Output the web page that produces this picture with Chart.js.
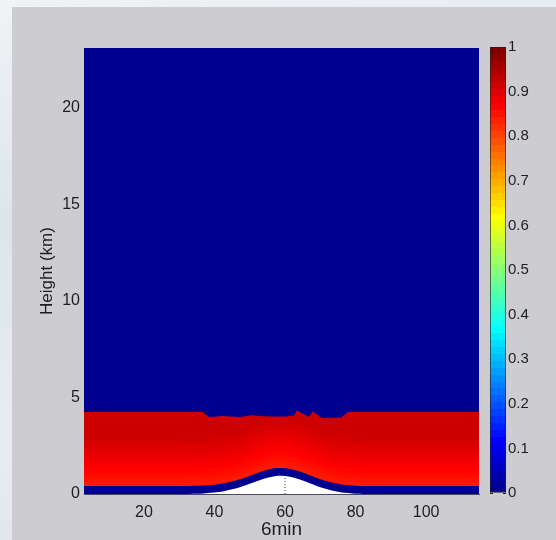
<!DOCTYPE html>
<html>
<head>
<meta charset="utf-8">
<script src="https://cdn.jsdelivr.net/npm/chart.js@4.4.1/dist/chart.umd.min.js"></script>
<style>
  html, body { margin: 0; padding: 0; }
  body {
    width: 556px; height: 540px; overflow: hidden; position: relative;
    background: linear-gradient(170deg, #f0f3f6 0%, #dde5eb 35%, #e8edf1 70%, #d9e1e8 100%);
  }
  #panel { position: absolute; left: 12px; top: 7px; right: 0; bottom: 0; background: #cdccd0; }
  #main { position: absolute; left: 0; top: 0; }
  #cbar { position: absolute; left: 460px; top: 0; }
</style>
</head>
<body>
<div id="panel"></div>
<canvas id="main" width="556" height="540"></canvas>
<canvas id="cbar" width="96" height="540"></canvas>
<script>
(function () {
    // ── Axes ───────────────────────────────────────────────
    const xMin = 3, xMax = 115;
    const yMax = 23.1;
    const xTicks = [20, 40, 60, 80, 100];
    const yTicks = [0, 5, 10, 15, 20];
    const cbTicks = [0, 0.1, 0.2, 0.3, 0.4, 0.5, 0.6, 0.7, 0.8, 0.9, 1];

    // ── Ground (white, no data), km ────────────────────────
    const terrainX = [3, 31, 33, 35, 37, 39, 41, 43, 45, 47, 49, 51, 53, 55, 57,
                      59, 61, 63, 65, 67, 69, 71, 73, 75, 77, 79, 81, 83, 115];
    const terrainH = [0, 0, 0.005, 0.015, 0.03, 0.06, 0.10, 0.16, 0.24, 0.34, 0.46, 0.60, 0.73, 0.84, 0.92,
                      0.94, 0.90, 0.82, 0.70, 0.56, 0.42, 0.30, 0.20, 0.12, 0.06, 0.03, 0.01, 0, 0];

    // ── Zero layer just above the ground, km ──────────────
    const clearDepth = 0.41;

    // ── Red layer: band tops above ground (km) and values ─
    const layerTops   = [0.6, 0.8, 1.0, 1.2, 1.4, 1.6, 1.8, 2.0, 2.2, 2.4, 2.6, 2.8, 3.0];
    const layerValues = [0.846, 0.853, 0.860, 0.867, 0.874, 0.880, 0.886, 0.892, 0.898, 0.904, 0.910, 0.915, 0.919];
    const upperValue = 0.922;

    // ── Top of the red layer, km ──────────────────────────
    const cloudX   = [3, 36.5, 38.5, 42.4, 47.2, 50.5, 53.7, 56.5, 60.4, 62.6, 63.3, 66.8, 67.9, 70.3, 76.0, 77.8, 115];
    const cloudTop = [4.25, 4.25, 3.99, 4.04, 3.99, 4.08, 4.03, 4.01, 4.01, 4.07, 4.33, 3.99, 4.28, 3.94, 3.96, 4.25, 4.25];

    // ── Dotted mark on the hill ───────────────────────────
    const markX = 60, markTop = 0.92;

    // ── Jet colour map (64 levels) ────────────────────────
    function ramp(k) {
        if (k <= 0 || k >= 48) return 0;
        if (k < 16) return k / 16;
        if (k <= 32) return 1;
        return (48 - k) / 16;
    }
    function jet(v) {
        const i = v * 63;
        const c = [ramp(i - 23), ramp(i - 7), ramp(i + 9)].map(a => Math.round(a * 255));
        return `rgb(${c[0]},${c[1]},${c[2]})`;
    }

    Chart.defaults.font.family = "'Liberation Sans', Arial, sans-serif";
    Chart.defaults.color = '#1e1e1e';

    const aboveGround = h => terrainX.map((x, i) => ({ x, y: terrainH[i] + h }));
    const area = (label, data, color, smooth) => ({
        label, data,
        backgroundColor: color,
        borderColor: 'rgba(0,0,0,0)',
        borderWidth: 0,
        pointRadius: 0,
        fill: 'origin',
        tension: 0,
        cubicInterpolationMode: smooth ? 'monotone' : 'default'
    });

    // first dataset is drawn on top
    const datasets = [
        {
            label: 'mark',
            data: [{ x: markX, y: 0 }, { x: markX, y: markTop }],
            borderColor: '#444',
            borderWidth: 1,
            borderDash: [1, 2],
            pointRadius: 0,
            fill: false
        },
        area('ground', aboveGround(0), '#ffffff', true),
        area('clear', aboveGround(clearDepth), jet(0), true),
        ...layerTops.map((h, k) => area('layer ' + h, aboveGround(h), jet(layerValues[k]), true)),
        area('cloud top', cloudX.map((x, i) => ({ x, y: cloudTop[i] })), jet(upperValue), false),
        area('above', [{ x: xMin, y: yMax }, { x: xMax, y: yMax }], jet(0), false)
    ];

    const fixTicks = list => s => { s.ticks = list.map(v => ({ value: v })); };

    new Chart(document.getElementById('main'), {
        type: 'line',
        data: { datasets },
        options: {
            responsive: false,
            animation: false,
            devicePixelRatio: 1,
            layout: { padding: { top: 48, right: 77, bottom: 0, left: 0 } },
            plugins: {
                legend: { display: false },
                tooltip: { enabled: false },
                filler: { propagate: false }
            },
            scales: {
                x: {
                    type: 'linear', min: xMin, max: xMax,
                    afterBuildTicks: fixTicks(xTicks),
                    afterFit: s => { s.height = 46; },
                    grid: { display: false, drawTicks: false },
                    border: { display: true, color: 'rgba(40,40,70,0.8)', width: 1 },
                    ticks: { padding: 9, font: { size: 16 }, maxRotation: 0 },
                    title: {
                        display: true, text: '6min',
                        font: { size: 19, lineHeight: 1 },
                        padding: { top: 0, bottom: 1 }
                    }
                },
                y: {
                    min: 0, max: yMax,
                    afterBuildTicks: fixTicks(yTicks),
                    afterFit: s => { s.width = 84; },
                    grid: { display: false, drawTicks: false },
                    border: { display: false },
                    ticks: { padding: 4, font: { size: 16 } },
                    title: {
                        display: true, text: 'Height (km)',
                        font: { size: 17, lineHeight: 1.2 },
                        padding: { top: 37, bottom: 0 }
                    }
                }
            }
        }
    });

    // ── Colour bar ────────────────────────────────────────
    new Chart(document.getElementById('cbar'), {
        type: 'bar',
        data: {
            labels: ['c'],
            datasets: [{
                data: [[0, 1]],
                backgroundColor: c => {
                    const { ctx, chartArea, scales } = c.chart;
                    if (!chartArea) return jet(0);
                    const g = ctx.createLinearGradient(0, scales.y.getPixelForValue(0), 0, scales.y.getPixelForValue(1));
                    for (let i = 0; i < 64; i++) {
                        g.addColorStop(i / 64, jet(i / 63));
                        g.addColorStop((i + 1) / 64, jet(i / 63));
                    }
                    return g;
                },
                borderColor: '#202020',
                borderWidth: 1,
                borderSkipped: false,
                barPercentage: 1,
                categoryPercentage: 1
            }]
        },
        options: {
            responsive: false,
            animation: false,
            devicePixelRatio: 1,
            layout: { padding: { top: 47, bottom: 47, left: 30, right: 0 } },
            plugins: { legend: { display: false }, tooltip: { enabled: false } },
            scales: {
                x: { display: false },
                y: {
                    position: 'right', min: 0, max: 1, z: 1,
                    afterBuildTicks: fixTicks(cbTicks),
                    afterFit: s => { s.width = 50; },
                    grid: { display: true, drawOnChartArea: true, drawTicks: false, color: '#202020' },
                    border: { display: false, dash: [3, 10, 3] },
                    ticks: {
                        padding: 2, font: { size: 15 },
                        callback: v => String(Math.round(v * 10) / 10)
                    }
                }
            }
        }
    });
})();
</script>
</body>
</html>
